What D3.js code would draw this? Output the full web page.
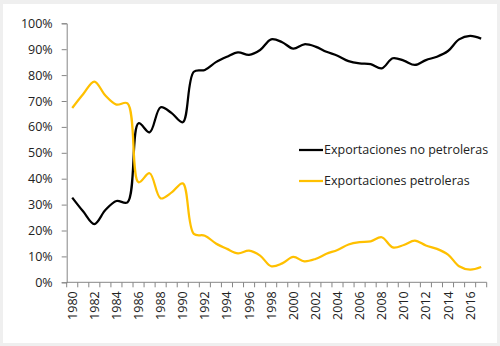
<!DOCTYPE html>
<html>
<head>
<meta charset="utf-8">
<script src="https://cdn.jsdelivr.net/npm/d3@7"></script>
<style>
  body { margin: 0; background: #efefef; }
  svg { display: block; }
  text { font-family: "Open Sans", "Liberation Sans", sans-serif; fill: #222; }
</style>
</head>
<body>
<svg id="chart"></svg>
<script>
// years on the x axis
const years = d3.range(1980, 2018);

// share of total exports (%)
const noPetroleras = [32.7, 27.3, 22.5, 27.9, 31.4, 30.9, 61.4, 57.9, 67.6, 65.3,
  61.8, 81.3, 82.0, 85.0, 87.1, 88.8, 87.8, 89.7, 93.8, 92.7,
  90.2, 91.9, 91.0, 89.0, 87.5, 85.4, 84.5, 84.2, 82.6, 86.5,
  85.6, 83.9, 85.8, 87.1, 89.3, 93.8, 95.1, 94.1];
const petroleras = [67.3, 72.7, 77.5, 72.1, 68.6, 69.1, 38.6, 42.1, 32.4, 34.7,
  38.2, 18.7, 18.0, 15.0, 12.9, 11.2, 12.2, 10.3, 6.2, 7.3,
  9.8, 8.1, 9.0, 11.0, 12.5, 14.6, 15.5, 15.8, 17.4, 13.5,
  14.4, 16.1, 14.2, 12.9, 10.7, 6.2, 4.9, 5.9];

const yTicks = [0, 10, 20, 30, 40, 50, 60, 70, 80, 90, 100];

const series = [
  { name: "Exportaciones no petroleras", values: noPetroleras, color: "#000000" },
  { name: "Exportaciones petroleras", values: petroleras, color: "#FFC000" }
];

const width = 500, height = 346;
const margin = { left: 66.7, right: 13.3, top: 23.3, bottom: 63.7 };

const svg = d3.select("#chart").attr("width", width).attr("height", height);

svg.append("rect")
  .attr("x", 3).attr("y", 4)
  .attr("width", 494).attr("height", 339)
  .attr("fill", "#fff");

const x = d3.scaleBand()
  .domain(years)
  .range([margin.left, width - margin.right]);

const y = d3.scaleLinear()
  .domain([0, 100])
  .range([height - margin.bottom, margin.top]);

// y axis
const yAxis = svg.append("g")
  .attr("transform", `translate(${margin.left},0)`)
  .call(d3.axisLeft(y).tickValues(yTicks).tickSize(5).tickPadding(9).tickFormat(d => d + "%"));
yAxis.selectAll("line, path").attr("stroke", "#868686");
yAxis.selectAll("text").style("font-size", "12.5px").attr("fill", "#222");

// x axis, ticks on category boundaries
const xAxisY = height - margin.bottom;
const gx = svg.append("g");
gx.append("line")
  .attr("x1", margin.left).attr("x2", width - margin.right)
  .attr("y1", xAxisY).attr("y2", xAxisY)
  .attr("stroke", "#868686");
gx.selectAll(".tk")
  .data(years.concat([2018]))
  .enter().append("line")
  .attr("x1", (d, i) => margin.left + i * x.bandwidth())
  .attr("x2", (d, i) => margin.left + i * x.bandwidth())
  .attr("y1", xAxisY).attr("y2", xAxisY + 5)
  .attr("stroke", "#868686");
gx.selectAll(".lbl")
  .data(years.filter(d => d % 2 === 0))
  .enter().append("text")
  .attr("transform", d => `translate(${x(d) + x.bandwidth() / 2 + 4.5},${xAxisY + 9}) rotate(-90)`)
  .attr("text-anchor", "end")
  .style("font-size", "12.5px")
  .text(d => d);

// lines
const line = d3.line()
  .x((d, i) => x(years[i]) + x.bandwidth() / 2)
  .y(d => y(d))
  .curve(d3.curveCatmullRom.alpha(0.5));

svg.selectAll(".series")
  .data(series)
  .enter().append("path")
  .attr("fill", "none")
  .attr("stroke", d => d.color)
  .attr("stroke-width", 2.25)
  .attr("d", d => line(d.values));

// legend
const legend = svg.selectAll(".legend")
  .data(series)
  .enter().append("g")
  .attr("transform", (d, i) => `translate(299,${150 + i * 31})`);
legend.append("line")
  .attr("x1", 0).attr("x2", 24)
  .attr("stroke", d => d.color)
  .attr("stroke-width", 2.25);
legend.append("text")
  .attr("x", 25).attr("dy", "0.35em")
  .style("font-size", "12.5px")
  .text(d => d.name);
</script>
</body>
</html>
